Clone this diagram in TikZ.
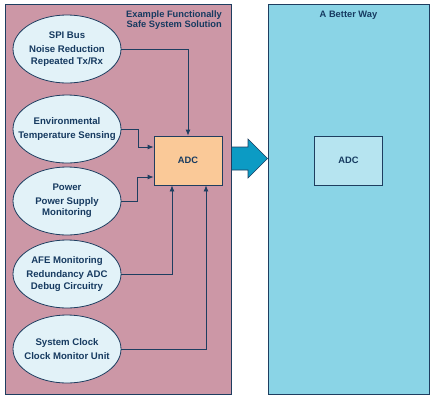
\documentclass[tikz,border=0pt]{standalone}
\usepackage{fontspec}
\setmainfont{Liberation Sans}
\usetikzlibrary{shapes.geometric,arrows.meta}
\definecolor{navy}{RGB}{30,62,96}
\definecolor{inktext}{RGB}{22,58,96}
\definecolor{mauve}{RGB}{204,151,166}
\definecolor{bubblefill}{RGB}{226,242,248}
\definecolor{adcorange}{RGB}{250,201,152}
\definecolor{skypanel}{RGB}{138,212,230}
\definecolor{adcsky}{RGB}{182,228,240}
\definecolor{arrowblue}{RGB}{12,155,196}
\tikzset{
  panel/.style={draw=navy, line width=0.9pt, minimum height=390pt, inner sep=0pt},
  bubble/.style={ellipse, draw=navy, line width=0.8pt, fill=bubblefill,
    minimum width=108pt, minimum height=68pt, inner xsep=-16pt, inner ysep=0pt, align=center,
    text=inktext, font=\bfseries\fontsize{9.6}{11.3}\selectfont},
  adcbox/.style={draw=navy, line width=0.8pt, minimum width=68pt, minimum height=49pt,
    text=inktext, font=\bfseries\fontsize{9.3}{11}\selectfont},
  heading/.style={text=inktext, inner sep=0pt, font=\bfseries\fontsize{9.3}{10.5}\selectfont},
  feed/.style={draw=navy, line width=0.8pt, -{Latex[length=6pt,width=5pt]}},
}
\begin{document}
\begin{tikzpicture}[x=1pt, y=-1pt]
  \useasboundingbox (0,0) rectangle (434,400);
  \node[panel, fill=mauve, minimum width=226pt] (safe) at (118,199) {};
  \node[panel, fill=skypanel, minimum width=161pt] (better) at (348.5,199) {};
  \node[heading, align=right, anchor=north east] (safetitle) at (222,10.5)
    {Example Functionally\\Safe System Solution};
  \node[heading, anchor=north] (bettertitle) at (better.north |- 0,10.5) {A Better Way};

  \node[bubble] (spi) at (67,49) {SPI Bus\\[2.7pt]Noise Reduction\\Repeated Tx/Rx};
  \node[bubble] (env) at (67,129) {Environmental\\[2.7pt]Temperature Sensing};
  \node[bubble] (pwr) at (67,201) {Power\\[2.7pt]Power Supply\\Monitoring};
  \node[bubble] (afe) at (67,274) {AFE Monitoring\\[2.7pt]Redundancy ADC\\Debug Circuitry};
  \node[bubble] (clk) at (67,349) {System Clock\\[2.7pt]Clock Monitor Unit};

  \node[adcbox, fill=adcorange] (adc) at (188,160.5) {ADC};
  \node[adcbox, fill=adcsky] (adcb) at (better.center |- adc) {ADC};

  \draw[feed] (spi.east) -| (adc.north);
  \draw[feed] (env.east) -- ++(17,0) |- ([yshift=13.5pt]adc.west);
  \draw[feed] (pwr.east) -- ++(16,0) |- ([yshift=-16.5pt]adc.west);
  \draw[feed] (afe.east) -| ([xshift=-16pt]adc.south);
  \draw[feed] (clk.east) -| ([xshift=18pt]adc.south);

  \draw[draw=navy, line width=0.6pt, fill=arrowblue]
    (safe.east |- 0,147) -- (248,147) -- (248,139) -- (better.west |- 0,158.5)
    -- (248,178) -- (248,170) -- (safe.east |- 0,170) -- cycle;
\end{tikzpicture}
\end{document}
